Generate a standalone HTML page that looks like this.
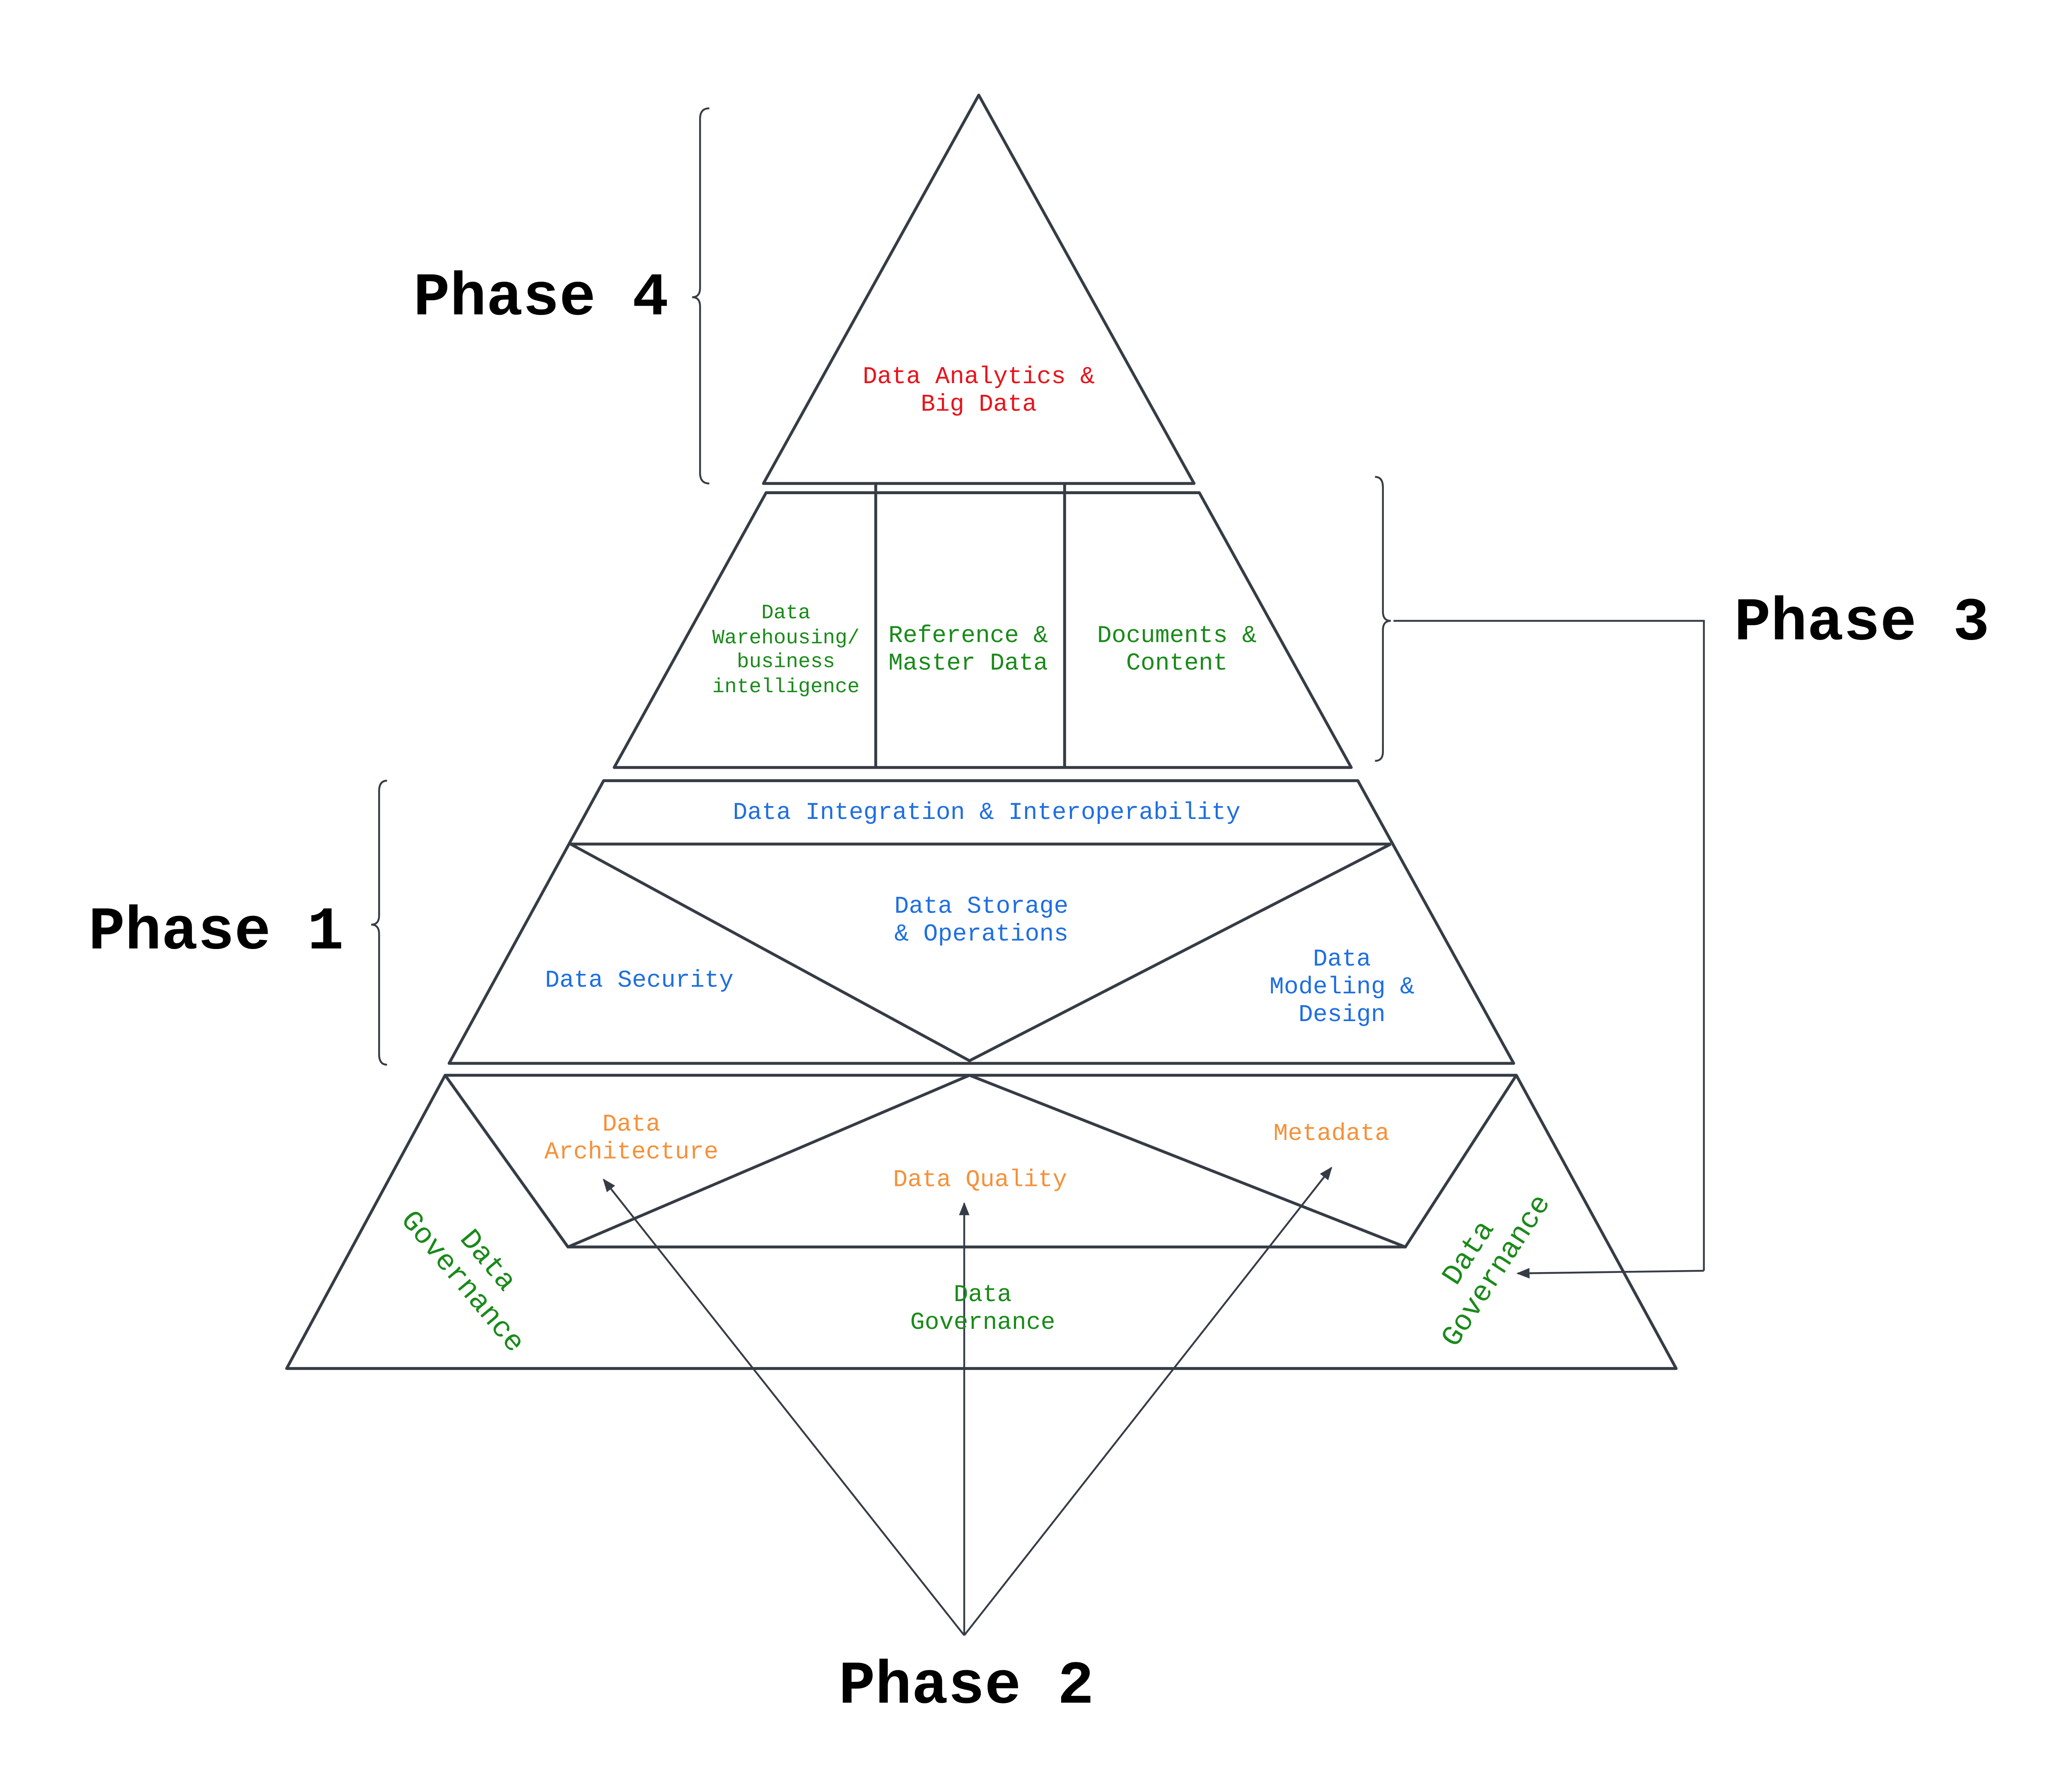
<!DOCTYPE html>
<html><head><meta charset="utf-8"><style>
html,body{margin:0;padding:0;background:#fff;}
svg{display:block;}
text{font-family:"Liberation Mono",monospace;}
.ph{font-family:"Liberation Mono",monospace;font-weight:bold;font-size:46px;fill:#000;}
</style></head><body>
<svg width="5064" height="4326" viewBox="0 0 1588 1356.6" xmlns="http://www.w3.org/2000/svg">
<defs><marker id="ah" markerWidth="10" markerHeight="10" refX="9" refY="5" orient="auto" markerUnits="userSpaceOnUse"><path d="M0,1 L10,5 L0,9 z" fill="#363c45"/></marker></defs>
<g fill="none" stroke="#363c45" stroke-width="2.2" stroke-linejoin="round">
<polygon points="741,72 578,366 904,366"/>
<polygon points="580,373 908,373 1023,581 465,581"/>
<line x1="663" y1="366" x2="663" y2="581"/>
<line x1="806" y1="366" x2="806" y2="581"/>
<polygon points="457,591 1028,591 1146,805 340,805"/>
<line x1="432" y1="639" x2="1053" y2="639"/>
<polyline points="432,639 734,803 1053,639"/>
<polygon points="337,814 1148,814 1269,1036 217,1036"/>
<polyline points="337,814 430,944 734,814 1064,944 1148,814"/>
<line x1="430" y1="944" x2="1064" y2="944"/>
</g>
<g fill="none" stroke="#363c45" stroke-width="1.4">
<line x1="730" y1="1238" x2="457" y2="893" marker-end="url(#ah)"/>
<line x1="730" y1="1238" x2="730" y2="911" marker-end="url(#ah)"/>
<line x1="730" y1="1238" x2="1008" y2="884" marker-end="url(#ah)"/>
<polyline points="1055,470 1290,470 1290,962"/>
<line x1="1290" y1="962" x2="1149" y2="964" marker-end="url(#ah)"/>
<path d="M537,82 Q530,82 530,90 L530,218 Q530,225 524,225 Q530,225 530,232 L530,358 Q530,366 537,366"/>
<path d="M1041,361 Q1047,361 1047,369 L1047,463 Q1047,470 1053,470 Q1047,470 1047,477 L1047,569 Q1047,576 1041,576"/>
<path d="M293,591 Q287,591 287,599 L287,693 Q287,700 281,700 Q287,700 287,707 L287,798 Q287,806 293,806"/>
</g>
<text class="ph" x="313" y="238">Phase 4</text>
<text class="ph" x="1313" y="484">Phase 3</text>
<text class="ph" x="67" y="718">Phase 1</text>
<text class="ph" x="635" y="1289">Phase 2</text>
<g font-size="18.3" text-anchor="middle">
<text fill="#e8141c" x="741" y="290">Data Analytics &amp;</text>
<text fill="#e8141c" x="741" y="311">Big Data</text>
<g fill="#1a8a1a">
<text font-size="15.5" x="595" y="468">Data</text>
<text font-size="15.5" x="595" y="487">Warehousing/</text>
<text font-size="15.5" x="595" y="505">business</text>
<text font-size="15.5" x="595" y="524">intelligence</text>
<text x="733" y="486">Reference &amp;</text>
<text x="733" y="507">Master Data</text>
<text x="891" y="486">Documents &amp;</text>
<text x="891" y="507">Content</text>
<text x="744" y="985">Data</text>
<text x="744" y="1006">Governance</text>
<g font-size="22">
<text transform="translate(360,962) rotate(50)" y="-6">Data</text>
<text transform="translate(360,962) rotate(50)" y="19">Governance</text>
<text transform="translate(1122,955) rotate(-57)" y="-6">Data</text>
<text transform="translate(1122,955) rotate(-57)" y="19">Governance</text>
</g>
</g>
<g fill="#1f6fe0">
<text x="747" y="620">Data Integration &amp; Interoperability</text>
<text x="743" y="691">Data Storage</text>
<text x="743" y="712">&amp; Operations</text>
<text x="484" y="747">Data Security</text>
<text x="1016" y="731">Data</text>
<text x="1016" y="752">Modeling &amp;</text>
<text x="1016" y="773">Design</text>
</g>
<g fill="#f5913a">
<text x="478" y="856">Data</text>
<text x="478" y="877">Architecture</text>
<text x="742" y="898">Data Quality</text>
<text x="1008" y="863">Metadata</text>
</g>
</g>
</svg>
</body></html>
